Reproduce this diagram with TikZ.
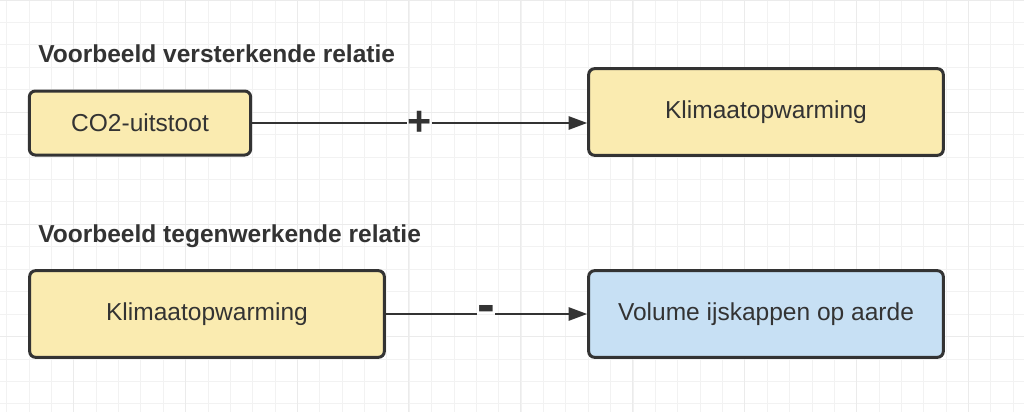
\documentclass[tikz,border=0pt]{standalone}
\usepackage{fontspec}
\setmainfont{Liberation Sans}
\usetikzlibrary{arrows.meta}
\definecolor{lijn}{HTML}{333333}
\definecolor{geel}{HTML}{FAEBB0}
\definecolor{blauw}{HTML}{C7E0F4}
\definecolor{rooster}{HTML}{F2F2F2}
\definecolor{roosterdik}{HTML}{EBEBEB}

\begin{document}
\begin{tikzpicture}[x=0.75pt,y=-0.75pt,
	blok/.style={draw=lijn,line width=2.25pt,rounded corners=4.5pt,fill=geel,text=lijn,inner sep=0pt,font=\fontsize{18.4}{22}\selectfont},
	kop/.style={anchor=base west,inner sep=0pt,text=lijn,font=\bfseries\fontsize{18.4}{22}\selectfont},
	teken/.style={inner sep=0pt,text=lijn,font=\bfseries\fontsize{31}{31}\selectfont},
	pijl/.style={draw=lijn,line width=1.5pt}]
\useasboundingbox (0,0) rectangle (1024,412);
\fill [white] (0,0) rectangle (1024,412);
\foreach \i in {0,...,45} \draw [rooster,line width=0.75pt] (6.7+22.37*\i,0) -- ++(0,412);
\foreach \i in {0,...,18} \draw [rooster,line width=0.75pt] (0,22.44*\i) -- ++(1024,0);
\foreach \i in {0,...,8} \draw [roosterdik,line width=0.75pt] (73.3+111.85*\i,0) -- ++(0,412);
\foreach \i in {0,...,3} \draw [roosterdik,line width=0.75pt] (0,112.2*\i) -- ++(1024,0);

\node [kop] (kop1) at (38,62) {Voorbeeld versterkende relatie};
\node [kop] (kop2) at (38,242) {Voorbeeld tegenwerkende relatie};

\node [blok,minimum width=166pt,minimum height=48pt] (co2) at (140,123) {CO2-uitstoot};
\node [blok,minimum width=266pt,minimum height=65pt] (klimaat) at (766,112) {Klimaatopwarming};
\node [blok,minimum width=266pt,minimum height=65pt] (klimaat2) at (207,314) {Klimaatopwarming};
\node [blok,fill=blauw,minimum width=266pt,minimum height=65pt] (ijs) at (766,314) {Volume ijskappen op aarde};

\node [teken] (plus) at (419.5,123) {+};
\node [teken,font=\bfseries\fontsize{40}{40}\selectfont] (min) at (486,314) {-};

\draw [pijl] (co2) -- (plus);
\draw [pijl,-{Triangle[length=14pt,width=10pt]}] (plus) -- (klimaat.west |- plus);
\draw [pijl] (klimaat2) -- (min);
\draw [pijl,-{Triangle[length=14pt,width=10pt]}] (min) -- (ijs);
\end{tikzpicture}
\end{document}
